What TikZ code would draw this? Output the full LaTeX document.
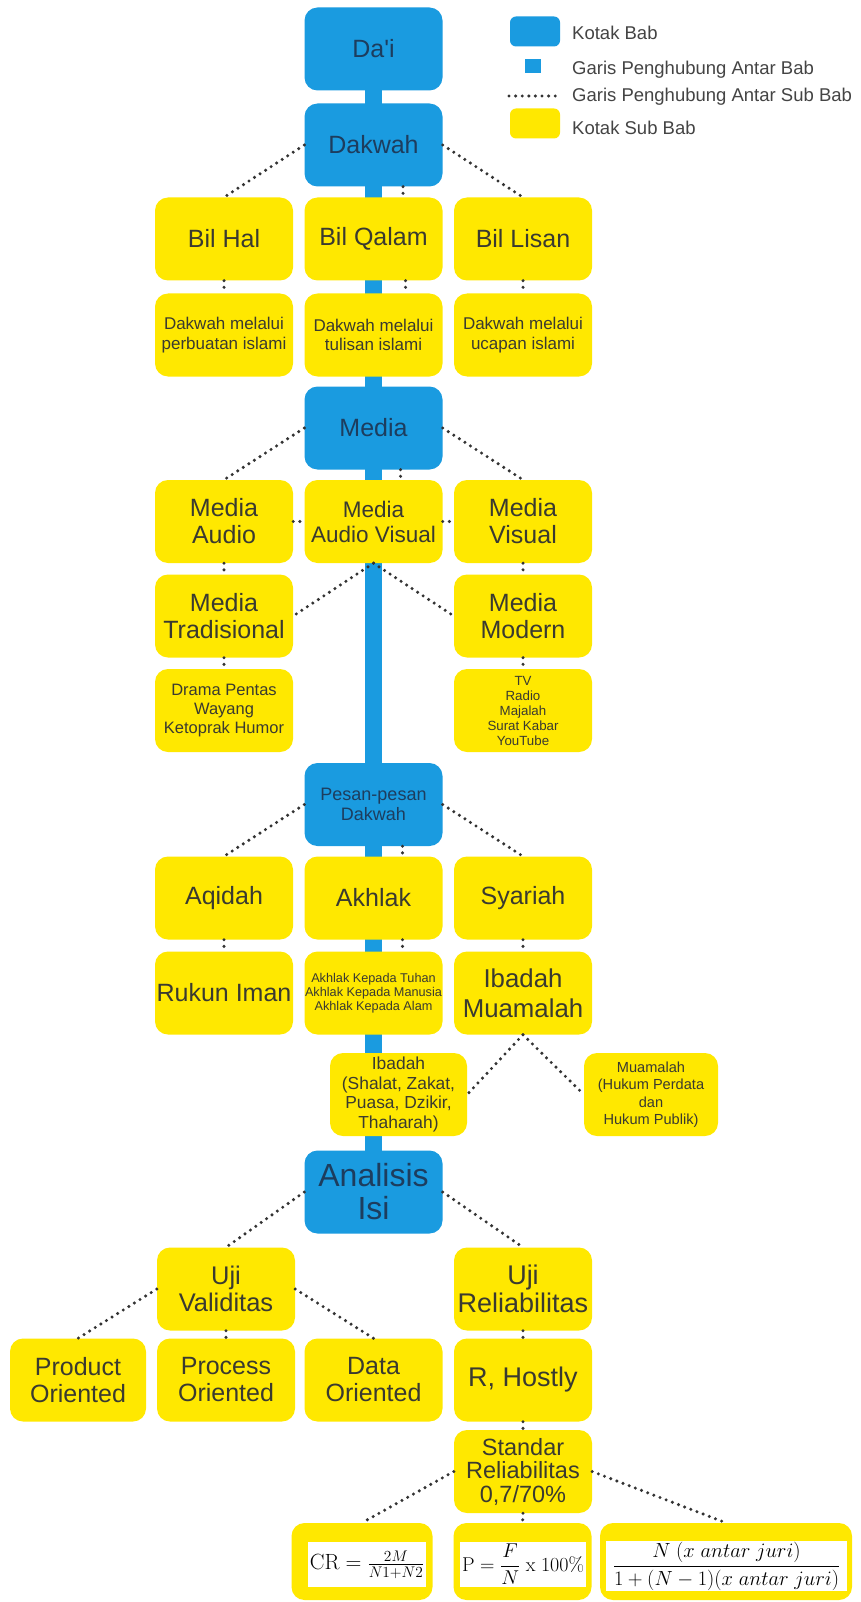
\RequirePackage{fix-cm}
\documentclass[tikz,border=0pt]{standalone}
\usepackage{amsmath}
\usepackage[no-math]{fontspec}
\setmainfont{Liberation Sans}
\usetikzlibrary{calc,backgrounds}
\definecolor{bblue}{HTML}{1A9BE0}
\definecolor{byel}{HTML}{FFE800}
\definecolor{btxt}{HTML}{1D3D5E}
\definecolor{ytxt}{HTML}{3A3A30}
\definecolor{dotc}{HTML}{333333}
\definecolor{legtxt}{HTML}{444444}
\newcommand\fsz[2]{\fontsize{#1}{#2}\selectfont}
\begin{document}
\begin{tikzpicture}[x=1pt,y=-1pt,
  box/.style={rectangle, rounded corners=13pt, minimum width=138pt, minimum height=83pt, inner sep=0pt, align=center},
  bab/.style={box, fill=bblue, text=btxt},
  sub/.style={box, fill=byel, text=ytxt},
  big/.style={font=\fsz{25}{27}},
  dotline/.style={draw=dotc, line width=3.4pt, line cap=round, dash pattern=on 0pt off 6.6pt},
  trunk/.style={draw=bblue, line width=17pt},
  inner/.style={fill=white, inner sep=1pt, align=center},
  legtext/.style={anchor=base west, text=legtxt, font=\fsz{18.5}{20}, inner sep=0pt},
]
\useasboundingbox (0,0) rectangle (861,1602);

% main column
\node[bab, big] (dai) at (373.5,49) {Da\textquotesingle i};
\node[bab, big] (dakwah) at (373.5,145) {Dakwah};
\node[sub, big] (bilhal) at (224,239) {Bil Hal};
\node[sub, big] (bilqalam) at (373.5,239) {Bil Qalam};
\node[sub, big] (billisan) at (523,239) {Bil Lisan};
\node[sub, font=\fsz{17}{19.5}] (hal2) at (224,335) {Dakwah melalui\\perbuatan islami};
\node[sub, font=\fsz{17}{19.5}] (qalam2) at (373.5,335) {Dakwah melalui\\tulisan islami};
\node[sub, font=\fsz{17}{19.5}] (lisan2) at (523,335) {Dakwah melalui\\ucapan islami};
\node[bab, big] (media) at (373.5,428) {Media};
\node[sub, big] (maudio) at (224,521.5) {Media\\Audio};
\node[sub, font=\fsz{22.5}{25}] (mav) at (373.5,521.5) {Media\\Audio Visual};
\node[sub, big] (mvisual) at (523,521.5) {Media\\Visual};
\node[sub, big] (mtrad) at (224,616) {Media\\Tradisional};
\node[sub, big] (mmodern) at (523,616) {Media\\Modern};
\node[sub, font=\fsz{16.5}{19}] (drama) at (224,710.5) {Drama Pentas\\Wayang\\Ketoprak Humor};
\node[sub, font=\fsz{13.3}{15}] (tv) at (523,710.5) {TV\\Radio\\Majalah\\Surat Kabar\\YouTube};
\node[bab, font=\fsz{18}{20.5}] (pesan) at (373.5,804.5) {Pesan-pesan\\Dakwah};
\node[sub, big] (aqidah) at (224,898) {Aqidah};
\node[sub, big] (akhlak) at (373.5,898) {Akhlak};
\node[sub, big] (syariah) at (523,898) {Syariah};
\node[sub, big] (rukun) at (224,993) {Rukun Iman};
\node[sub, font=\fsz{12.7}{14}] (akhlak2) at (373.5,993) {Akhlak Kepada Tuhan\\Akhlak Kepada Manusia\\Akhlak Kepada Alam};
\node[sub, font=\fsz{25.8}{30}] (ibmu) at (523,993) {Ibadah\\Muamalah};
\node[sub, minimum width=137pt, font=\fsz{17.4}{19.5}] (ibadah) at (398.5,1094.5) {Ibadah\\(Shalat, Zakat,\\Puasa, Dzikir,\\Thaharah)};
\node[sub, minimum width=134pt, font=\fsz{14.6}{17.5}] (muamalah) at (651,1094.5) {Muamalah\\(Hukum Perdata\\dan\\Hukum Publik)};
\node[bab, font=\fsz{32}{33}] (analisis) at (373.5,1192) {Analisis\\Isi};
\node[sub, font=\fsz{25.5}{27}] (ujival) at (226,1289) {Uji\\Validitas};
\node[sub, font=\fsz{27}{28}] (ujirel) at (523,1289) {Uji\\Reliabilitas};
\node[sub, minimum width=136pt, big] (product) at (78,1380) {Product\\Oriented};
\node[sub, big] (process) at (226,1380) {Process\\Oriented};
\node[sub, big] (data) at (373.5,1380) {Data\\Oriented};
\node[sub, font=\fsz{27}{28}] (rhostly) at (523,1380) {R, Hostly};
\node[sub, font=\fsz{23.5}{23.5}] (standar) at (523,1471.5) {Standar\\Reliabilitas\\0,7/70\%};
\node[sub, minimum width=141pt, minimum height=77pt] (cr) at (362,1561.5) {};
\node[sub, minimum height=77pt] (pbox) at (522.5,1561.5) {};
\node[sub, minimum width=252pt, minimum height=77pt] (third) at (726,1561.5) {};
\node[inner, minimum width=118pt, minimum height=45pt, font=\fsz{22}{26}] (crf) at ($(cr)+(5,3)$) {$\mathrm{CR}=\frac{2M}{N1+N2}$};
\node[inner, minimum width=126pt, minimum height=45pt, font=\fsz{20}{24}] (pf) at ($(pbox)+(0.5,3)$) {$\mathrm{P}=\dfrac{F}{N}\ \mathrm{x}\ 100\%$};
\node[inner, minimum width=241pt, minimum height=46pt, font=\fsz{20.5}{24}] (thf) at ($(third)+(0.5,4.5)$) {$\dfrac{N\ (x\ antar\ juri)}{1+(N-1)(x\ antar\ juri)}$};

% background and trunk
\begin{pgfonlayer}{background}
\fill[white] (0,0) rectangle (861,1602);
\draw[trunk] (dai.center) -- (analisis.center);
\end{pgfonlayer}

% dotted connectors
\draw[dotline] (dakwah.west) -- (bilhal.north);
\draw[dotline] (dakwah.east) -- (billisan.north);
\draw[dotline] ($(dakwah.south)+(29.5,0)$) -- ($(bilqalam.north)+(29.5,0)$);
\draw[dotline] (bilhal.south) -- (hal2.north);
\draw[dotline] ($(bilqalam.south)+(32,0)$) -- ($(qalam2.north)+(32,0)$);
\draw[dotline] (billisan.south) -- (lisan2.north);
\draw[dotline] (media.west) -- (maudio.north);
\draw[dotline] (media.east) -- (mvisual.north);
\draw[dotline] ($(media.south)+(27,0)$) -- ($(mav.north)+(27,0)$);
\draw[dotline] (maudio.east) -- (mav.west);
\draw[dotline] (mav.east) -- (mvisual.west);
\draw[dotline] (maudio.south) -- (mtrad.north);
\draw[dotline] (mvisual.south) -- (mmodern.north);
\draw[dotline] (mav.south) -- (mtrad.east);
\draw[dotline] (mav.south) -- (mmodern.west);
\draw[dotline] (mtrad.south) -- (drama.north);
\draw[dotline] (mmodern.south) -- (tv.north);
\draw[dotline] (pesan.west) -- (aqidah.north);
\draw[dotline] (pesan.east) -- (syariah.north);
\draw[dotline] ($(pesan.south)+(29,0)$) -- ($(akhlak.north)+(29,0)$);
\draw[dotline] (aqidah.south) -- (rukun.north);
\draw[dotline] ($(akhlak.south)+(29,0)$) -- ($(akhlak2.north)+(29,0)$);
\draw[dotline] (syariah.south) -- (ibmu.north);
\draw[dotline] (ibmu.south) -- (ibadah.east);
\draw[dotline] (ibmu.south) -- (muamalah.west);
\draw[dotline] (analisis.west) -- (ujival.north);
\draw[dotline] (analisis.east) -- (ujirel.north);
\draw[dotline] (ujival.west) -- (product.north);
\draw[dotline] (ujival.east) -- (data.north);
\draw[dotline] (ujival.south) -- (process.north);
\draw[dotline] (ujirel.south) -- (rhostly.north);
\draw[dotline] (rhostly.south) -- (standar.north);
\draw[dotline] (standar.west) -- (cr.north);
\draw[dotline] (standar.east) -- (third.north);
\draw[dotline] (standar.south) -- (pbox.north);

% legend
\node[fill=bblue, rounded corners=6pt, minimum width=50pt, minimum height=30pt, inner sep=0pt] (lg1) at (535,31.5) {};
\node[fill=bblue, minimum width=16pt, minimum height=14pt, inner sep=0pt] (lg2) at (533,66) {};
\coordinate (lg3a) at (509,96);
\coordinate (lg3b) at (561,96);
\draw[dotline] (lg3a) -- (lg3b);
\node[fill=byel, rounded corners=6pt, minimum width=50pt, minimum height=30pt, inner sep=0pt] (lg4) at (535,123.5) {};
\node[legtext] (t1) at (572,40) {Kotak Bab};
\node[legtext] (t2) at (572,75) {Garis Penghubung Antar Bab};
\node[legtext] (t3) at (572,102) {Garis Penghubung Antar Sub Bab};
\node[legtext] (t4) at (572,135) {Kotak Sub Bab};
\end{tikzpicture}
\end{document}
